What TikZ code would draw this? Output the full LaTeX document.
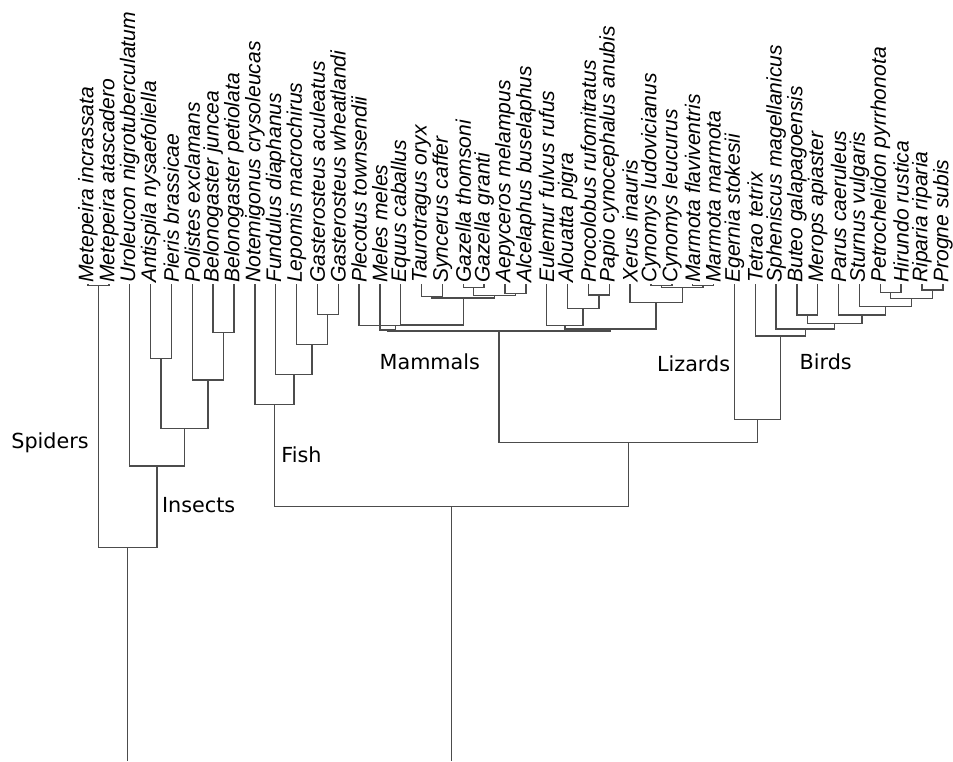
\documentclass[tikz,border=0pt]{standalone}
\usepackage{fontspec}
\setmainfont{DejaVu Sans}
\newfontfamily\taxfont{Liberation Sans}
\tikzset{
    taxon/.style = {rotate=90, anchor=west, inner sep=0.5pt, text=black, font=\taxfont\itshape\fontsize{12}{14}\selectfont},
    clade/.style = {anchor=base west, inner sep=0pt, text=black, font=\fontsize{11.8}{14}\selectfont},
    edgen/.style = {draw=black!70, line width=0.8pt},
}

\begin{document}
\begin{tikzpicture}[x=0.02cm, y=-0.02cm]
  \useasboundingbox (0,0) rectangle (953,761);

\node[taxon] (l1)  at (88.00,284) {Metepeira incrassata};
\node[taxon] (l2)  at (108.85,284) {Metepeira atascadero};
\node[taxon] (l3)  at (129.70,284) {Uroleucon nigrotuberculatum};
\node[taxon] (l4)  at (150.55,284) {Antispila nysaefoliella};
\node[taxon] (l5)  at (171.40,284) {Pieris brassicae};
\node[taxon] (l6)  at (192.25,284) {Polistes exclamans};
\node[taxon] (l7)  at (213.10,284) {Belonogaster juncea};
\node[taxon] (l8)  at (233.95,284) {Belonogaster petiolata};
\node[taxon] (l9)  at (254.80,284) {Notemigonus crysoleucas};
\node[taxon] (l10) at (275.65,284) {Fundulus diaphanus};
\node[taxon] (l11) at (296.50,284) {Lepomis macrochirus};
\node[taxon] (l12) at (317.35,284) {Gasterosteus aculeatus};
\node[taxon] (l13) at (338.20,284) {Gasterosteus wheatlandi};
\node[taxon] (l14) at (359.05,284) {Plecotus townsendii};
\node[taxon] (l15) at (379.90,284) {Meles meles};
\node[taxon] (l16) at (400.75,284) {Equus caballus};
\node[taxon] (l17) at (421.60,284) {Taurotragus oryx};
\node[taxon] (l18) at (442.45,284) {Syncerus caffer};
\node[taxon] (l19) at (463.30,284) {Gazella thomsoni};
\node[taxon] (l20) at (484.15,284) {Gazella granti};
\node[taxon] (l21) at (505.00,284) {Aepyceros melampus};
\node[taxon] (l22) at (525.85,284) {Alcelaphus buselaphus};
\node[taxon] (l23) at (546.70,284) {Eulemur fulvus rufus};
\node[taxon] (l24) at (567.55,284) {Alouatta pigra};
\node[taxon] (l25) at (588.40,284) {Procolobus rufomitratus};
\node[taxon] (l26) at (609.25,284) {Papio cynocephalus anubis};
\node[taxon] (l27) at (630.10,284) {Xerus inauris};
\node[taxon] (l28) at (650.95,284) {Cynomys ludovicianus};
\node[taxon] (l29) at (671.80,284) {Cynomys leucurus};
\node[taxon] (l30) at (692.65,284) {Marmota flaviventris};
\node[taxon] (l31) at (713.50,284) {Marmota marmota};
\node[taxon] (l32) at (734.35,284) {Egernia stokesii};
\node[taxon] (l33) at (755.20,284) {Tetrao tetrix};
\node[taxon] (l34) at (776.05,284) {Spheniscus magellanicus};
\node[taxon] (l35) at (796.90,284) {Buteo galapagoensis};
\node[taxon] (l36) at (817.75,284) {Merops apiaster};
\node[taxon] (l37) at (838.60,284) {Parus caeruleus};
\node[taxon] (l38) at (859.45,284) {Sturnus vulgaris};
\node[taxon] (l39) at (880.30,284) {Petrochelidon pyrrhonota};
\node[taxon] (l40) at (901.15,284) {Hirundo rustica};
\node[taxon] (l41) at (922.00,284) {Riparia riparia};
\node[taxon] (l42) at (942.85,284) {Progne subis};

  % spiders and insects
  \coordinate (sp) at (98.43,285.5);
  \coordinate (i2) at (160.98,358.3);
  \coordinate (bb) at (223.53,332.3);
  \coordinate (i3) at (207.89,380);
  \coordinate (i1) at (184.43,428.3);
  \coordinate (i0) at (157.07,466);
  \coordinate (si) at (127.75,547.7);
  \coordinate (rootl) at (127.75,761);
  % fish
  \coordinate (f3) at (327.78,314.3);
  \coordinate (f2) at (312.14,344.3);
  \coordinate (f1) at (293.90,374.3);
  \coordinate (f0) at (274.35,404.3);
  % mammals
  \coordinate (ts) at (432.03,296.7);
  \coordinate (gz) at (473.73,287.7);
  \coordinate (aa) at (515.43,293.3);
  \coordinate (ga) at (494.58,295.7);
  \coordinate (bv) at (463.30,298);
  \coordinate (eb) at (432.03,325);
  \coordinate (pe) at (395.54,325.7);
  \coordinate (lm) at (387.72,330);
  \coordinate (pp) at (598.83,295);
  \coordinate (ap) at (583.19,308.3);
  \coordinate (pr) at (564.95,325.7);
  \coordinate (cy) at (661.38,285.5);
  \coordinate (mm) at (703.08,285.5);
  \coordinate (cm) at (682.23,287.7);
  \coordinate (ro) at (656.17,302.3);
  \coordinate (rm) at (610.56,329);
  \coordinate (ma) at (499.14,331);
  % lizards and birds
  \coordinate (ph) at (890.73,292.3);
  \coordinate (rp) at (932.43,290);
  \coordinate (b5) at (911.58,298.3);
  \coordinate (b4) at (885.52,306.7);
  \coordinate (b3) at (862.06,315);
  \coordinate (bm) at (807.33,315);
  \coordinate (b2) at (834.70,323.3);
  \coordinate (b1) at (805.38,329);
  \coordinate (bd) at (780.29,336);
  \coordinate (lb) at (757.32,419.3);
  \coordinate (tp) at (628.23,442.7);
  \coordinate (rr) at (451.29,506.7);
  \coordinate (rootr) at (451.29,761);

  \draw[edgen] (l1.west) |- (sp) -| (l2.west);
  \draw[edgen] (l4.west) |- (i2) -| (l5.west);
  \draw[edgen] (l7.west) |- (bb) -| (l8.west);
  \draw[edgen] (l6.west) |- (i3) -| (bb);
  \draw[edgen] (i2) |- (i1) -| (i3);
  \draw[edgen] (l3.west) |- (i0) -| (i1);
  \draw[edgen] (sp) |- (si) -| (i0);
  \draw[edgen] (si) -- (rootl);

  \draw[edgen] (l12.west) |- (f3) -| (l13.west);
  \draw[edgen] (l11.west) |- (f2) -| (f3);
  \draw[edgen] (l10.west) |- (f1) -| (f2);
  \draw[edgen] (l9.west) |- (f0) -| (f1);

  \draw[edgen] (l17.west) |- (ts) -| (l18.west);
  \draw[edgen] (l19.west) |- (gz) -| (l20.west);
  \draw[edgen] (l21.west) |- (aa) -| (l22.west);
  \draw[edgen] (gz) |- (ga) -| (aa);
  \draw[edgen] (ts) |- (bv) -| (ga);
  \draw[edgen] (l16.west) |- (eb) -| (bv);
  \draw[edgen] (l14.west) |- (pe) -| (eb);
  \draw[edgen] (l15.west) |- (lm) -| (pe);
  \draw[edgen] (l25.west) |- (pp) -| (l26.west);
  \draw[edgen] (l24.west) |- (ap) -| (pp);
  \draw[edgen] (l23.west) |- (pr) -| (ap);
  \draw[edgen] (l28.west) |- (cy) -| (l29.west);
  \draw[edgen] (l30.west) |- (mm) -| (l31.west);
  \draw[edgen] (cy) |- (cm) -| (mm);
  \draw[edgen] (l27.west) |- (ro) -| (cm);
  \draw[edgen] (pr) |- (rm) -| (ro);
  \draw[edgen] (lm) |- (ma) -| (rm);

  \draw[edgen] (l39.west) |- (ph) -| (l40.west);
  \draw[edgen] (l41.west) |- (rp) -| (l42.west);
  \draw[edgen] (ph) |- (b5) -| (rp);
  \draw[edgen] (l38.west) |- (b4) -| (b5);
  \draw[edgen] (l37.west) |- (b3) -| (b4);
  \draw[edgen] (l35.west) |- (bm) -| (l36.west);
  \draw[edgen] (bm) |- (b2) -| (b3);
  \draw[edgen] (l34.west) |- (b1) -| (b2);
  \draw[edgen] (l33.west) |- (bd) -| (b1);
  \draw[edgen] (l32.west) |- (lb) -| (bd);

  \draw[edgen] (ma) |- (tp) -| (lb);
  \draw[edgen] (f0) |- (rr) -| (tp);
  \draw[edgen] (rr) -- (rootr);

  \node[clade] (spiders) at (11,448) {Spiders};
  \node[clade] (insects) at (161.7,512) {Insects};
  \node[clade] (fish) at (281,462.5) {Fish};
  \node[clade] (mammals) at (379.3,369) {Mammals};
  \node[clade] (lizards) at (656.7,371) {Lizards};
  \node[clade] (birds) at (799.3,369) {Birds};
\end{tikzpicture}
\end{document}
